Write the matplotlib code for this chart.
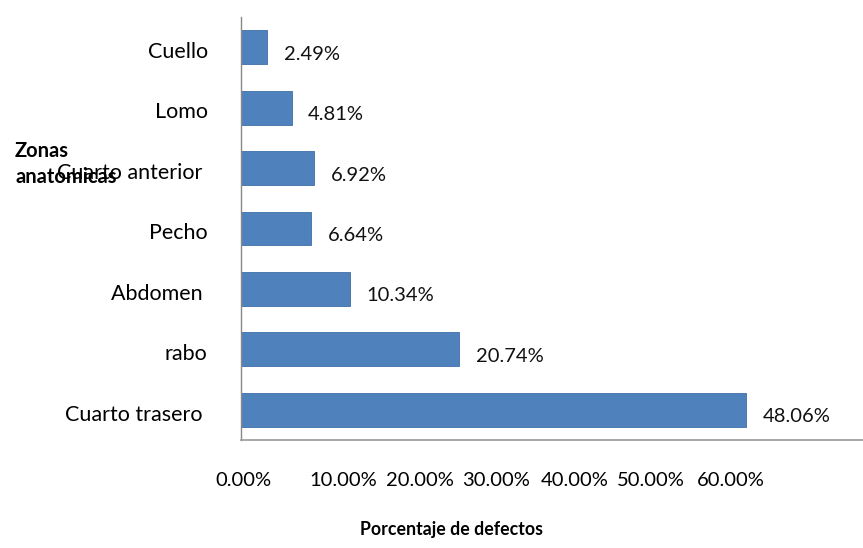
import matplotlib

matplotlib.use("Agg")
import matplotlib.pyplot as plt
from matplotlib.transforms import ScaledTranslation

# data, top to bottom as shown in the chart
categories = ["Cuello", "Lomo", "Cuarto anterior ", "Pecho", "Abdomen ", "rabo", "Cuarto trasero "]
values = [2.49, 4.81, 6.92, 6.64, 10.34, 20.74, 48.06]
value_labels = ["2.49%", "4.81%", "6.92%", "6.64%", "10.34%", "20.74%", "48.06%"]
tick_labels = ["0.00%", "10.00%", "20.00%", "30.00%", "40.00%", "50.00%", "60.00%"]
# the original export squashed the tick labels together; positions in data units
tick_pos = [0.2, 9.75, 17.0, 24.3, 31.7, 39.0, 46.6]

BLUE = "#4F81BD"
FS = 14.5

plt.rcParams["font.family"] = ["Lato", "DejaVu Sans"]

fig = plt.figure(figsize=(8.63, 5.48), dpi=100)
ax = fig.add_axes([241 / 863, 108 / 548, 631 / 863, 423 / 548])

ypos = list(range(len(categories)))[::-1]
ax.barh(ypos, values, height=0.56, color=BLUE, edgecolor="#3f6fa8", linewidth=0.6)

for y, v, lab in zip(ypos, values, value_labels):
    ax.annotate(lab, (v, y), xytext=(12, -5), textcoords="offset points",
                ha="left", va="center", fontsize=FS, color="#111111")

ax.set_xlim(0, 60)
ax.set_ylim(-0.5, len(categories) - 0.5)

ax.set_yticks(ypos)
ax.set_yticklabels(categories, fontsize=15.5)
ax.tick_params(axis="y", length=0, pad=24)
shift = ScaledTranslation(0, -2 / 72, fig.dpi_scale_trans)
for t in ax.get_yticklabels():
    t.set_transform(t.get_transform() + shift)

ax.set_xticks(tick_pos)
ax.set_xticklabels(tick_labels, fontsize=FS)
ax.tick_params(axis="x", length=0, pad=23)

for side in ("top", "right"):
    ax.spines[side].set_visible(False)
ax.spines["left"].set_color("#888888")
ax.spines["bottom"].set_color("#999999")
ax.spines["left"].set_linewidth(1.0)
ax.spines["bottom"].set_linewidth(1.2)

fig.text(15 / 863, 1 - 164 / 548, "Zonas\nanatomicas", ha="left", va="center",
         fontsize=14.5, fontweight="bold", linespacing=1.35)
fig.text(452 / 863, 1 - 530 / 548, "Porcentaje de defectos", ha="center", va="center",
         fontsize=12.8, fontweight="bold")

fig.savefig("out.png", dpi=100)
